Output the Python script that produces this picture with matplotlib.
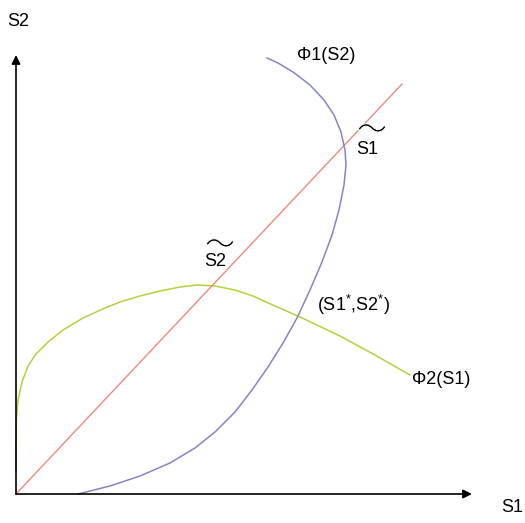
import matplotlib
matplotlib.use('Agg')
import matplotlib.pyplot as plt
import matplotlib.patheffects as pe

plt.rcParams['font.family'] = ['Liberation Sans', 'DejaVu Sans']
plt.rcParams['mathtext.default'] = 'regular'

# diagonal S2 = S1
diag_s1 = [0, 386]
diag_s2 = [0, 410]

# Phi1(S2)
phi1_s1 = [62, 94, 124, 154, 179, 199, 219, 236, 252, 267, 281, 294, 306,
           316, 323, 328, 330, 329, 325, 318, 308, 294, 277, 262, 251]
phi1_s2 = [0, 8, 18, 31, 46, 62, 82, 104, 127, 151, 176, 204, 232,
           259, 284, 309, 329, 344, 362, 379, 394, 409, 422, 431, 436]

# Phi2(S1)
phi2_s1 = [0, 0.3, 2, 6, 12, 20, 32, 47, 67, 89, 104, 124, 144, 164,
           181, 199, 219, 237, 259, 284, 324, 359, 394]
phi2_s2 = [22, 74, 94, 112, 128, 140, 152, 164, 176, 186, 192, 198, 203, 207,
           209, 208, 204, 198, 188, 177, 158, 139, 119]

fig = plt.figure(figsize=(5.25, 5.23), dpi=100)
ax = fig.add_axes([0, 0, 1, 1])
ax.set_xlim(-16, 509)
ax.set_ylim(-29, 494)
ax.axis('off')

# axes with arrow heads
arrow = dict(arrowstyle='-|>', color='black', lw=1.2, mutation_scale=13,
             shrinkA=0, shrinkB=0)
ax.annotate('', xy=(456, 0), xytext=(0, 0), arrowprops=arrow)
ax.annotate('', xy=(0, 439), xytext=(0, 0), arrowprops=arrow)

ax.plot(phi2_s1, phi2_s2, color='#b5d03c', lw=1.1)
ax.plot(diag_s1, diag_s2, color='#f08a78', lw=1.0)
ax.plot(phi1_s1, phi1_s2, color='#8484c8', lw=1.1)

fs = 13
ax.text(2, 472, 'S2', fontsize=fs, ha='center', va='center')
ax.text(496, -14, 'S1', fontsize=fs, ha='center', va='center')
ax.text(310, 439, '\u03a61(S2)', fontsize=fs, ha='center', va='center')
ax.text(396, 115, '\u03a62(S1)', fontsize=fs, ha='left', va='center')
ax.text(338, 189, '(S1$^{*}$,S2$^{*}$)', fontsize=fs, ha='center', va='center')

# tilde-marked fixed points (white outline thins the wave)
tilde = dict(fontsize=22, ha='center', va='center', color='black',
             family=['Noto Sans CJK JP', 'DejaVu Sans'],
             path_effects=[pe.Stroke(linewidth=0.7, foreground='white')])
ax.text(356, 363, '\u301c', **tilde)
ax.text(351, 344, 'S1', fontsize=fs, ha='center', va='center')
ax.text(204, 248, '\u301c', **tilde)
ax.text(199, 232, 'S2', fontsize=fs, ha='center', va='center')

fig.savefig('out.png', dpi=100)
